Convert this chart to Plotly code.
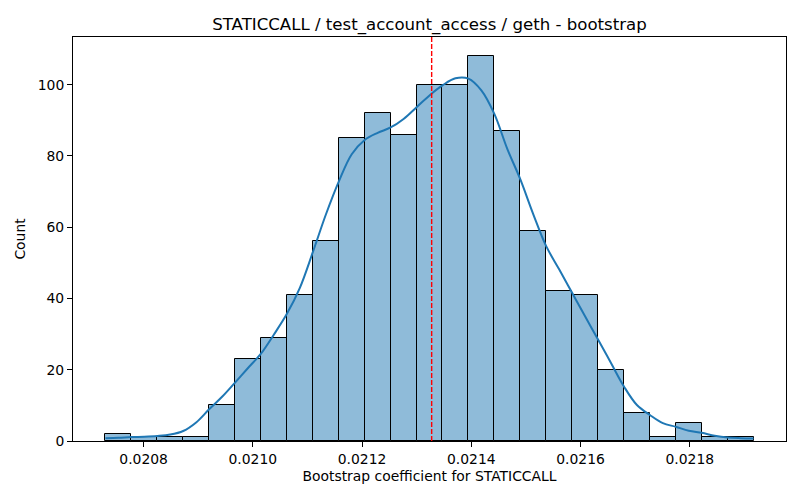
import numpy as np
import plotly.graph_objects as go

# data
x_min = 0.0207301
x_max = 0.0219168
counts = [2, 1, 1, 1, 10, 23, 29, 41, 56, 85, 92, 86, 100,
          100, 108, 87, 59, 42, 41, 20, 8, 1, 5, 1, 1]
# kde curve (in count units), sampled every half bin from x_min to x_max
kde_counts = [0.8, 0.9, 1.1, 1.2, 1.4, 1.8, 2.8, 5.2, 8.9, 12.4,
              16.4, 20.5, 24.5, 29.9, 35.7, 43.0, 53.0, 63.5, 72.8, 80.5,
              84.5, 86.5, 88.0, 90.4, 93.7, 97.0, 99.8, 101.8, 101.7, 98.4,
              91.8, 82.0, 73.5, 63.7, 54.7, 48.2, 41.6, 35.0, 28.5, 21.9,
              15.3, 10.1, 7.3, 5.0, 4.0, 2.9, 2.3, 1.5, 1.0, 0.8, 0.7]
point_estimate = 0.0213274
x_ticks = [0.0208, 0.0210, 0.0212, 0.0214, 0.0216, 0.0218]
y_ticks = [0, 20, 40, 60, 80, 100]

edges = np.linspace(x_min, x_max, len(counts) + 1)
centers = (edges[:-1] + edges[1:]) / 2
bin_w = edges[1] - edges[0]
kde_x = np.linspace(x_min, x_max, len(kde_counts))

pad = 0.05 * (x_max - x_min)
font = "DejaVu Sans"

fig = go.Figure()
fig.add_trace(go.Bar(
    x=centers,
    y=counts,
    width=bin_w,
    marker=dict(color="#8fbbd9", line=dict(color="black", width=1)),
    showlegend=False,
    hoverinfo="x+y",
))
fig.add_trace(go.Scatter(
    x=kde_x,
    y=kde_counts,
    mode="lines",
    line=dict(color="#1f77b4", width=2, shape="spline", smoothing=1.0),
    showlegend=False,
))
fig.add_shape(
    type="line", xref="x", yref="paper",
    x0=point_estimate, x1=point_estimate, y0=0, y1=1,
    line=dict(color="#ff0000", width=1.4, dash="5px,2px"),
    layer="above",
)

axis_style = dict(
    showline=True, linecolor="black", linewidth=1, mirror=True,
    ticks="outside", ticklen=5, tickcolor="black", tickwidth=1,
    showgrid=False, zeroline=False,
    tickfont=dict(family=font, size=13.9, color="black"),
)

# the page body has an 8px margin, so the figure is 8px smaller here
fig.update_layout(
    width=792, height=492,
    margin=dict(l=63, r=14, t=29, b=59),
    paper_bgcolor="white",
    plot_bgcolor="white",
    bargap=0,
    font=dict(family=font, color="black"),
    title=dict(
        text="STATICCALL / test_account_access / geth - bootstrap",
        xref="paper", x=0.5, xanchor="center",
        yref="container", y=0.968, yanchor="middle",
        font=dict(family=font, size=16.6, color="black"),
    ),
    xaxis=dict(
        range=[x_min - pad, x_max + pad],
        tickvals=x_ticks, tickformat=".4f",
        title=dict(text="Bootstrap coefficient for STATICCALL",
                   font=dict(family=font, size=13.9), standoff=5),
        **axis_style,
    ),
    yaxis=dict(
        range=[0, max(counts) * 1.05],
        tickvals=y_ticks,
        title=dict(text="Count", font=dict(family=font, size=13.9), standoff=8),
        **axis_style,
    ),
)

fig.write_html("out.html")
